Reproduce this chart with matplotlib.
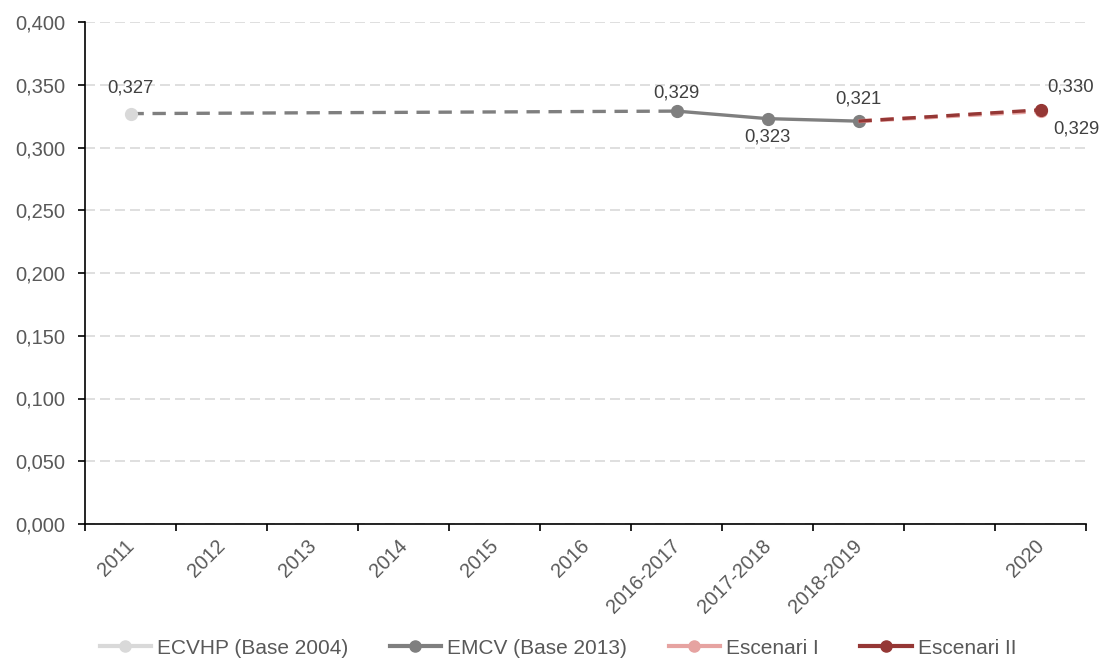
import matplotlib
matplotlib.use("Agg")
import matplotlib.pyplot as plt
import matplotlib.transforms as mtransforms
import numpy as np
from matplotlib.lines import Line2D

plt.rcParams['font.family'] = ['Liberation Sans', 'DejaVu Sans']

categories = ["2011", "2012", "2013", "2014", "2015", "2016",
              "2016-2017", "2017-2018", "2018-2019", "", "2020"]
nan = np.nan
ecvhp = [0.327, nan, nan, nan, nan, nan, nan, nan, nan, nan, nan]
emcv = [nan, nan, nan, nan, nan, nan, 0.329, 0.323, 0.321, nan, nan]
link = [0.327, nan, nan, nan, nan, nan, 0.329, nan, nan, nan, nan]
esc1 = [nan, nan, nan, nan, nan, nan, nan, nan, 0.321, nan, 0.329]
esc2 = [nan, nan, nan, nan, nan, nan, nan, nan, 0.321, nan, 0.330]
yticks = [0.0, 0.05, 0.10, 0.15, 0.20, 0.25, 0.30, 0.35, 0.40]

c_ecvhp = "#d9d9d9"
c_emcv = "#7f7f7f"
c_esc1 = "#e6a3a1"
c_esc2 = "#953735"

fig = plt.figure(figsize=(11.02, 6.6), dpi=100)
ax = fig.add_axes([85/1102, 1-524/660, (1086-85)/1102, (524-22)/660])

x = np.arange(len(categories))

def seg(vals):
    v = np.array(vals, dtype=float)
    m = ~np.isnan(v)
    return x[m], v[m]

dash = (0, (4, 2.6))
# dashed connector ECVHP -> EMCV
lx, ly = seg(link)
ax.plot(lx, ly, color=c_emcv, lw=2.4, ls=dash, zorder=2)
# EMCV
mx, my = seg(emcv)
ax.plot(mx, my, color=c_emcv, lw=2.4, marker='o', ms=8.5, zorder=3)
# scenarios
e1x, e1y = seg(esc1)
ax.plot(e1x, e1y, color=c_esc1, lw=3.0, ls=(0, (3.2, 2.08)), zorder=4)
ax.plot(e1x[-1:], e1y[-1:], 'o', color=c_esc1, ms=8.5, zorder=4)
e2x, e2y = seg(esc2)
ax.plot(e2x, e2y, color=c_esc2, lw=2.4, ls=dash, zorder=5)
ax.plot(e2x[-1:], e2y[-1:], 'o', color=c_esc2, ms=8.5, zorder=5)
# ECVHP
ex, ey = seg(ecvhp)
ax.plot(ex, ey, color=c_ecvhp, lw=2.4, marker='o', ms=8.5, zorder=6)

def fmt(v):
    return f"{v:.3f}".replace('.', ',')

lab_kw = dict(fontsize=13.3, color="#404040")
ax.annotate(fmt(ecvhp[0]), (0, ecvhp[0]), xytext=(0, 12), textcoords='offset points', ha='center', va='bottom', **lab_kw)
ax.annotate(fmt(emcv[6]), (6, emcv[6]), xytext=(0, 7), textcoords='offset points', ha='center', va='bottom', **lab_kw)
ax.annotate(fmt(emcv[7]), (7, emcv[7]), xytext=(0, -7), textcoords='offset points', ha='center', va='top', **lab_kw)
ax.annotate(fmt(emcv[8]), (8, emcv[8]), xytext=(0, 10), textcoords='offset points', ha='center', va='bottom', **lab_kw)
ax.annotate(fmt(esc2[10]), (10, esc2[10]), xytext=(5, 10), textcoords='offset points', ha='left', va='bottom', **lab_kw)
ax.annotate(fmt(esc1[10]), (10, esc1[10]), xytext=(9, -7), textcoords='offset points', ha='left', va='top', **lab_kw)

ax.set_xlim(-0.5, len(categories) - 0.5)
ax.set_ylim(0, 0.4)
ax.set_yticks(yticks)
ax.set_yticklabels([fmt(v) for v in yticks], fontsize=14.5, color="#595959")
ax.yaxis.grid(True, color="#d9d9d9", ls=(0, (6, 3)), lw=1.2)
ax.set_axisbelow(True)

ax.set_xticks(np.arange(-0.5, len(categories), 1.0))
ax.set_xticklabels([])
ax.set_xticks(x, minor=True)
ax.set_xticklabels(categories, minor=True, rotation=45, ha='right', rotation_mode='anchor',
                   fontsize=14.3, color="#595959")
ax.tick_params(axis='x', which='minor', length=0, pad=9)
ax.tick_params(axis='x', which='major', length=5, width=1.2, direction='out')
ax.tick_params(axis='y', length=5, width=1.2, direction='out', pad=9)
shift = mtransforms.ScaledTranslation(-0.06, 0, fig.dpi_scale_trans)
for lab in ax.get_xticklabels(minor=True):
    lab.set_transform(lab.get_transform() + shift)

for s in ['top', 'right']:
    ax.spines[s].set_visible(False)
for s in ['left', 'bottom']:
    ax.spines[s].set_linewidth(1.2)
    ax.spines[s].set_color('black')

handles = [
    Line2D([], [], color=c_ecvhp, lw=3, marker='o', ms=8),
    Line2D([], [], color=c_emcv, lw=3, marker='o', ms=8),
    Line2D([], [], color=c_esc1, lw=3, marker='o', ms=8),
    Line2D([], [], color=c_esc2, lw=3, marker='o', ms=8),
]
labels = ["ECVHP (Base 2004)", "EMCV (Base 2013)", "Escenari I", "Escenari II"]
leg = fig.legend(handles, labels, loc='center', bbox_to_anchor=(558/1102, 1-648/660), ncol=4,
                 frameon=False, fontsize=15, handlelength=2.45, handletextpad=0.3, columnspacing=2.0)
for t in leg.get_texts():
    t.set_color("#595959")

fig.savefig("out.png", dpi=100)
